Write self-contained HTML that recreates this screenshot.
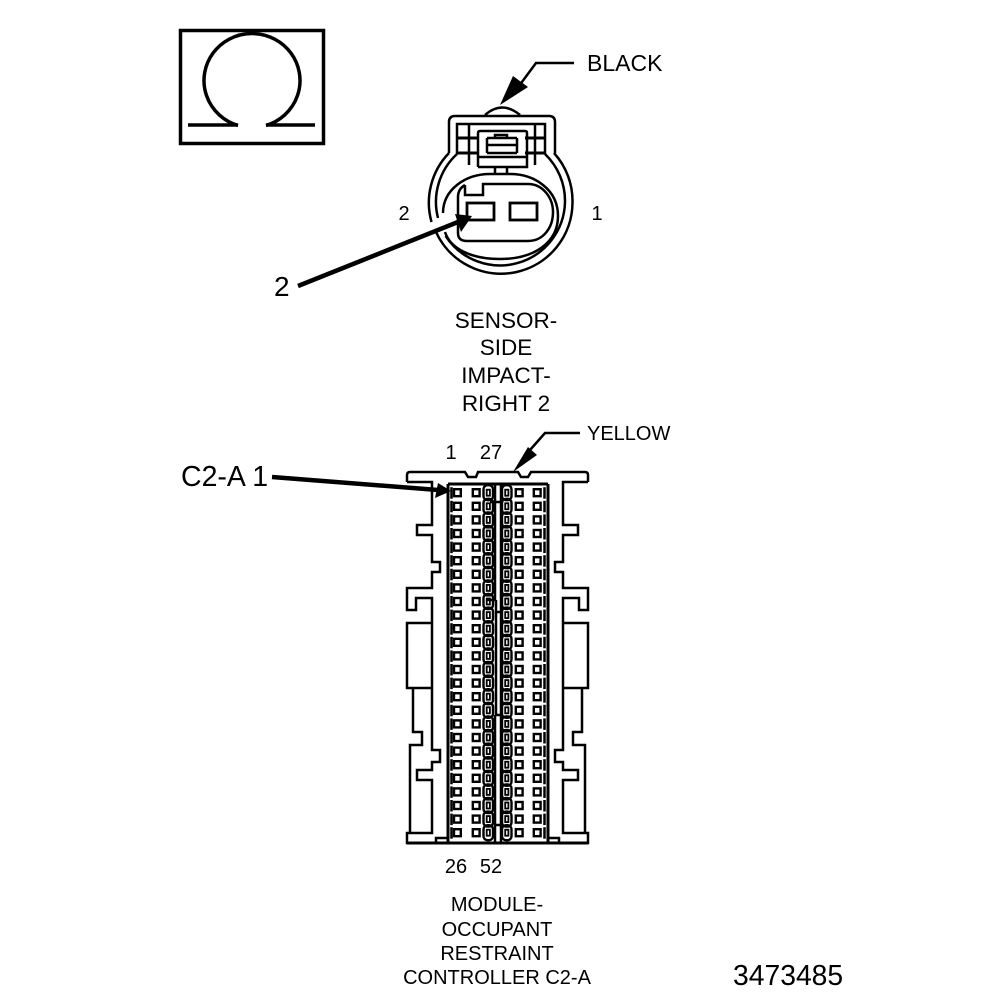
<!DOCTYPE html>
<html><head><meta charset="utf-8"><style>
html,body{margin:0;padding:0;background:#fff}
svg{display:block}
text{font-family:"Liberation Sans",Arial,sans-serif;fill:#000}
.l{fill:none;stroke:#000;stroke-width:2.500}
</style></head><body>
<svg xmlns="http://www.w3.org/2000/svg" width="1008" height="1000" viewBox="0 0 1008 1000">
<rect width="1008" height="1000" fill="#fff"/>
<defs>
<g id="row" fill="none" stroke="#000" stroke-width="2.400">
<path d="M451.500,-5.500V6" stroke-width="2.500"/>
<rect x="454" y="-3.500" width="6.800" height="7"/>
<rect x="472.800" y="-3.500" width="6.800" height="7"/>
<rect x="483.500" y="-7.500" width="9.500" height="15" rx="4"/>
<rect x="486.700" y="-3" width="3.200" height="6" stroke-width="1.800"/>
<rect x="502" y="-7.500" width="9.500" height="15" rx="4"/>
<rect x="505.200" y="-3" width="3.200" height="6" stroke-width="1.800"/>
<rect x="515.800" y="-3.500" width="6.800" height="7"/>
<rect x="533.800" y="-3.500" width="6.800" height="7"/>
<path d="M544.500,-5.500V6" stroke-width="2.500"/>
</g>
<g id="side" class="l">
<path d="M407,482H432V525H417V535H432V562H440V572H432V588H407V610H416V598H432V623H407V688H432M413,688V732H422V745H410V833M432,598V750H440V762H432V770H417V780H432V833H407V843H436V838H448"/>
</g>
</defs>

<!-- Omega box -->
<rect x="180.500" y="30.500" width="143" height="113" fill="none" stroke="#000" stroke-width="3.500"/>
<path d="M238,125.500A48,47 0 1 1 266,125.500" fill="none" stroke="#000" stroke-width="3.500"/>
<path d="M188,125H238M266,125H315" fill="none" stroke="#000" stroke-width="3.500"/>

<!-- Sensor connector -->
<g fill="none" stroke="#000" stroke-width="2.500">
<path d="M485,115Q502,100 520,115"/>
<path d="M449,153V122Q449,116 455,116H549Q555,116 555,122V153"/>
<path d="M449,153A71.500,71.500 0 0 0 431.500,222M436,232A71.500,71.500 0 0 0 572.500,202.500A71.500,71.500 0 0 0 554,153"/>
<path d="M457,154V124H545V154"/>
<path d="M457,154A65,65 0 0 0 438,218M445.600,236A65,65 0 0 0 565,202A65,65 0 0 0 545,154"/>
<path d="M457,138H479M525,138H545M457,153H479M525,153H545" stroke-width="3"/>
<path d="M469,124V165M535,124V165"/>
<path d="M478,167V133Q478,131 480,131H525Q527,131 527,133V167H478M478,157H527"/>
<path d="M487,153V138M517,153V138M487,138H517M487,145H517M487,153H517M495,138V135H507V138"/>
<path d="M495,167V173M507,167V173"/>
<path d="M443,213C443,190 465,174 490,174H510C535,174 558,190 558,216C558,242 535,259 500,259C470,259 450,248 445,232"/>
<path d="M465,185V195H483V184H528C543,184 553,198 553,212C553,228 543,241 528,241H467Q458,241 458,233V197Q458,189 465,185"/>
<rect x="467" y="203" width="27" height="17" stroke-width="2.800"/>
<rect x="510" y="203" width="27" height="17" stroke-width="2.800"/>
</g>
<!-- Black arrow -->
<path d="M574,63H536L516,90" fill="none" stroke="#000" stroke-width="2.500"/>
<path d="M500,105L513,76L528,87Z" fill="#000"/>
<!-- 2 arrow -->
<path d="M298,286L458,222" fill="none" stroke="#000" stroke-width="4.500"/>
<path d="M472,216L455,214L461,232Z" fill="#000"/>

<!-- C2-A connector -->
<path class="l" d="M407,482V475Q407,472 410,472H465L468,477H476L478,472H518L521,477H528L531,472H585Q588,472 588,475V482"/>
<use href="#side"/>
<use href="#side" transform="translate(995,0) scale(-1,1)"/>
<path d="M407,843H588" stroke="#000" stroke-width="3" fill="none"/>
<path d="M448,484H548M448,484V843M548,484V843" fill="none" stroke="#000" stroke-width="3"/>
<path d="M495,485V600M501,485V600M496,600V715M501,600V715M495,715V843M501,715V843M490,502H501M495,600H487M501,612H495M495,715H501M495,825H501" class="l"/>
<use href="#row" y="492.700"/><use href="#row" y="506.300"/><use href="#row" y="519.900"/><use href="#row" y="533.500"/><use href="#row" y="547.100"/><use href="#row" y="560.700"/><use href="#row" y="574.300"/><use href="#row" y="587.900"/><use href="#row" y="601.500"/><use href="#row" y="615.100"/><use href="#row" y="628.700"/><use href="#row" y="642.300"/><use href="#row" y="655.900"/><use href="#row" y="669.500"/><use href="#row" y="683.100"/><use href="#row" y="696.700"/><use href="#row" y="710.300"/><use href="#row" y="723.900"/><use href="#row" y="737.500"/><use href="#row" y="751.100"/><use href="#row" y="764.700"/><use href="#row" y="778.300"/><use href="#row" y="791.900"/><use href="#row" y="805.500"/><use href="#row" y="819.100"/><use href="#row" y="832.700"/>

<!-- Yellow arrow -->
<path d="M580,433H545L530,450" fill="none" stroke="#000" stroke-width="2.500"/>
<path d="M513,472L528,447L537,455Z" fill="#000"/>
<!-- C2-A arrow -->
<path d="M272,477L438,490" fill="none" stroke="#000" stroke-width="4.500"/>
<path d="M451,491L438,483L435,498Z" fill="#000"/>

<!-- Labels -->
<text x="587" y="71" font-size="23">BLACK</text>
<text x="404" y="220" font-size="20" text-anchor="middle">2</text>
<text x="597" y="220" font-size="20" text-anchor="middle">1</text>
<text x="274" y="296" font-size="28">2</text>
<g font-size="22.500" text-anchor="middle">
<text x="506" y="328">SENSOR-</text>
<text x="506" y="355">SIDE</text>
<text x="506" y="383">IMPACT-</text>
<text x="506" y="411">RIGHT 2</text>
</g>
<text x="451" y="459" font-size="20" text-anchor="middle">1</text>
<text x="491" y="459" font-size="20" text-anchor="middle">27</text>
<text x="587" y="440" font-size="20">YELLOW</text>
<text x="181" y="486" font-size="28.500">C2-A 1</text>
<text x="456" y="873" font-size="20" text-anchor="middle">26</text>
<text x="491" y="873" font-size="20" text-anchor="middle">52</text>
<g font-size="20" text-anchor="middle">
<text x="497" y="911">MODULE-</text>
<text x="497" y="936">OCCUPANT</text>
<text x="497" y="960">RESTRAINT</text>
<text x="497" y="984">CONTROLLER C2-A</text>
</g>
<text x="733" y="985" font-size="28.300">3473485</text>
</svg>
</body></html>
